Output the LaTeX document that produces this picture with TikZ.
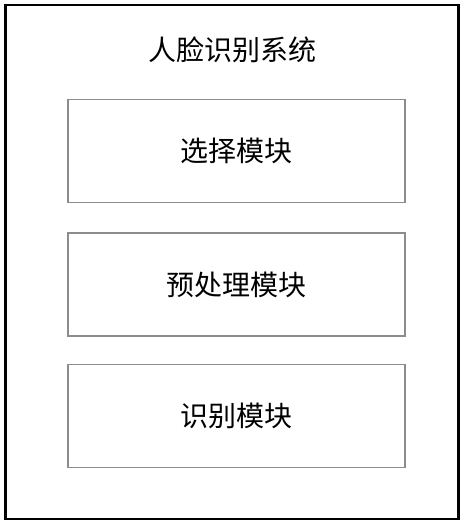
\documentclass[tikz,border=0pt]{standalone}
\usepackage{fontspec}
\newfontfamily\cjk{Noto Sans CJK SC}
\usetikzlibrary{positioning}

\begin{document}
\begin{tikzpicture}[x=1pt, y=-1pt,
    every node/.style={font=\cjk\fontsize{28}{32}\selectfont},
    modbox/.style={draw=black!45, line width=1.2pt, minimum width=337pt, minimum height=103pt, inner sep=0pt}]
    \useasboundingbox (0, 0) rectangle (465, 526);
    \node[draw, line width=2.6pt, minimum width=453pt, minimum height=514pt, inner sep=0pt] (sys) at (232, 262) {};
    \node (title) at (232, 50) {人脸识别系统};
    \node[modbox] (sel) at (236.5, 151) {选择模块};
    \node[modbox] (pre) at (236.5, 284.5) {预处理模块};
    \node[modbox] (rec) at (236.5, 416) {识别模块};
\end{tikzpicture}
\end{document}
